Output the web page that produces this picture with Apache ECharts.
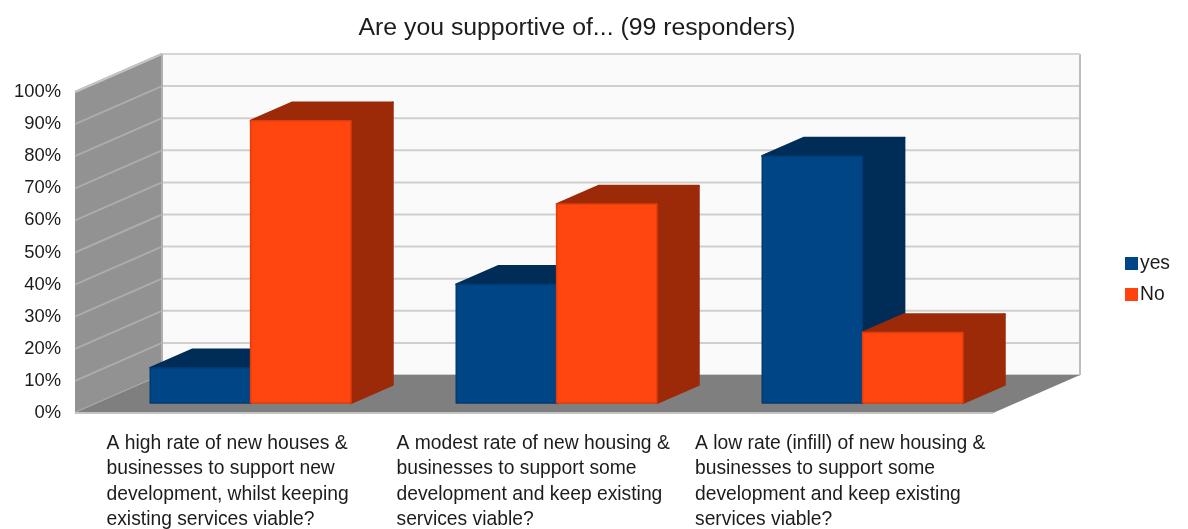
<!DOCTYPE html>
<html>
<head>
<meta charset="utf-8">
<style>html,body{margin:0;padding:0;background:#fff}#chart{width:1188px;height:529px}</style>
<script src="https://cdn.jsdelivr.net/npm/echarts@6/dist/echarts.min.js"></script>
</head>
<body>
<div id="chart"></div>
<script>
// Survey results: share of responders supporting each rate of development.
const titleText = 'Are you supportive of... (99 responders)';
const categories = [
  'A high rate of new houses &\nbusinesses to support new\ndevelopment, whilst keeping\nexisting services viable?',
  'A modest rate of new housing &\nbusinesses to support some\ndevelopment and keep existing\nservices viable?',
  'A low rate (infill) of new housing &\nbusinesses to support some\ndevelopment and keep existing\nservices viable?'
];
const yesValues = [11, 37, 77];
const noValues = [88, 62, 22];
const valueTicks = [0, 10, 20, 30, 40, 50, 60, 70, 80, 90, 100];
const labelBlockWidths = [243, 275, 290];

// Oblique projection: depth 0 is the front plane of the grid, depth 1 the back wall.
const DEPTH_X = 87, DEPTH_Y = -38;
const BAR_FRONT = 0.26, BAR_BACK = 0.74, BAR_SHARE = 0.328;
const FONT = '"Liberation Sans", Arial, sans-serif';
const TEXT = '#1c1c1c';

const shift = (pt, d) => [pt[0] + d * DEPTH_X, pt[1] + d * DEPTH_Y];
const poly = (points, fill, stroke, lineWidth) => ({
  type: 'polygon',
  shape: { points },
  style: { fill, stroke: stroke || null, lineWidth: lineWidth || 0, lineJoin: 'round' }
});

function renderWalls(params, api) {
  const cs = params.coordSys;
  const l = cs.x, r = cs.x + cs.width;
  const top = api.coord([0, 100])[1], base = api.coord([0, 0])[1];
  return {
    type: 'group',
    children: [
      poly([shift([l, top], 1), shift([r, top], 1), shift([r, base], 1), shift([l, base], 1)], '#fafafa'),
      poly([[l, top], shift([l, top], 1), shift([l, base], 1), [l, base]], '#929292')
    ]
  };
}

function renderGridline(params, api) {
  const cs = params.coordSys;
  const l = cs.x, r = cs.x + cs.width;
  const y = api.coord([0, api.value(0)])[1];
  const line = (a, b, stroke) => ({
    type: 'line',
    shape: { x1: a[0], y1: a[1], x2: b[0], y2: b[1] },
    style: { stroke, lineWidth: 2 }
  });
  return {
    type: 'group',
    children: [
      line(shift([l, y], 1), shift([r, y], 1), '#cfcfcf'),
      line([l, y], shift([l, y], 1), '#acacac')
    ]
  };
}

function renderFloor(params, api) {
  const cs = params.coordSys;
  const l = cs.x, r = cs.x + cs.width;
  const top = api.coord([0, 100])[1], base = api.coord([0, 0])[1];
  const edge = (a, b, stroke) => ({
    type: 'line',
    shape: { x1: a[0], y1: a[1], x2: b[0], y2: b[1] },
    style: { stroke, lineWidth: 2 }
  });
  return {
    type: 'group',
    children: [
      poly([[l, base], shift([l, base], 1), shift([r, base], 1), [r, base]], '#7f7f7f'),
      edge([l, base], [r, base], '#c4c4c4'),
      edge(shift([r, top], 1), shift([r, base], 1), '#bdbdbd'),
      edge(shift([l, top], 1), shift([r, top], 1), '#d6d6d6'),
      edge(shift([l, top], 1), shift([l, base], 1), '#b0b0b0'),
      edge([l, top], shift([l, top], 1), '#c4c4c4')
    ]
  };
}

// Each bar is a box: front face beside the category centre, top and side receding.
function boxRenderer(side, front, dark, rim) {
  return function (params, api) {
    const idx = api.value(0);
    const foot = api.coord([idx, 0]);
    const head = api.coord([idx, api.value(1)]);
    const w = api.size([1, 0])[0] * BAR_SHARE;
    const x0 = side < 0 ? foot[0] - w : foot[0];
    const x1 = x0 + w;
    const fTL = shift([x0, head[1]], BAR_FRONT), fTR = shift([x1, head[1]], BAR_FRONT);
    const fBL = shift([x0, foot[1]], BAR_FRONT), fBR = shift([x1, foot[1]], BAR_FRONT);
    const bTL = shift([x0, head[1]], BAR_BACK), bTR = shift([x1, head[1]], BAR_BACK);
    const bBR = shift([x1, foot[1]], BAR_BACK);
    return {
      type: 'group',
      children: [
        poly([fTL, bTL, bTR, fTR], dark, dark, 2),
        poly([fTR, bTR, bBR, fBR], dark, dark, 2),
        poly([fTL, fTR, fBR, fBL], front, rim, 1.5)
      ]
    };
  };
}

const chart = echarts.init(document.getElementById('chart'), null, { renderer: 'canvas' });
const rich = {};
labelBlockWidths.forEach((w, i) => {
  rich['c' + i] = { width: w, align: 'left', fontSize: 19.3, lineHeight: 25.4, fontFamily: FONT, color: TEXT };
});

chart.setOption({
  animation: false,
  backgroundColor: '#ffffff',
  title: {
    text: titleText,
    left: 572,
    top: 11,
    textAlign: 'center',
    textStyle: { fontFamily: FONT, fontSize: 24.8, fontWeight: 'normal', color: TEXT }
  },
  legend: {
    orient: 'vertical',
    left: 1120,
    top: 249,
    itemWidth: 13,
    itemHeight: 13,
    itemGap: 12,
    icon: 'rect',
    data: ['yes', 'No'],
    textStyle: { fontFamily: FONT, fontSize: 19.3, color: TEXT, padding: [0, 0, 0, -3] }
  },
  grid: { left: 75, right: 195, top: 92, bottom: 116, outerBoundsMode: 'none' },
  xAxis: {
    type: 'category',
    data: categories,
    axisLine: { show: false },
    axisTick: { show: false },
    axisLabel: {
      interval: 0,
      margin: 18,
      formatter: (value, i) => value.split('\n').map(s => '{c' + i + '|' + s + '}').join('\n'),
      rich
    }
  },
  yAxis: {
    type: 'value',
    min: 0,
    max: 100,
    interval: 10,
    splitLine: { show: false },
    axisLine: { show: false },
    axisTick: { show: false },
    axisLabel: {
      formatter: '{value}%',
      margin: 14,
      fontFamily: FONT,
      fontSize: 18.4,
      color: TEXT
    }
  },
  series: [
    { type: 'custom', name: 'walls', silent: true, data: [0], renderItem: renderWalls, z: 1 },
    { type: 'custom', name: 'gridlines', silent: true, data: valueTicks.map(v => [v]), renderItem: renderGridline, z: 2 },
    { type: 'custom', name: 'floor', silent: true, data: [0], renderItem: renderFloor, z: 3 },
    {
      type: 'custom', name: 'yes', z: 4,
      itemStyle: { color: '#004586' },
      data: yesValues.map((v, i) => [i, v]),
      encode: { x: 0, y: 1 },
      renderItem: boxRenderer(-1, '#004586', '#002d58', '#003a70')
    },
    {
      type: 'custom', name: 'No', z: 5,
      itemStyle: { color: '#ff420e' },
      data: noValues.map((v, i) => [i, v]),
      encode: { x: 0, y: 1 },
      renderItem: boxRenderer(1, '#ff460f', '#9c2a09', '#e03c0c')
    }
  ]
});
</script>
</body>
</html>
